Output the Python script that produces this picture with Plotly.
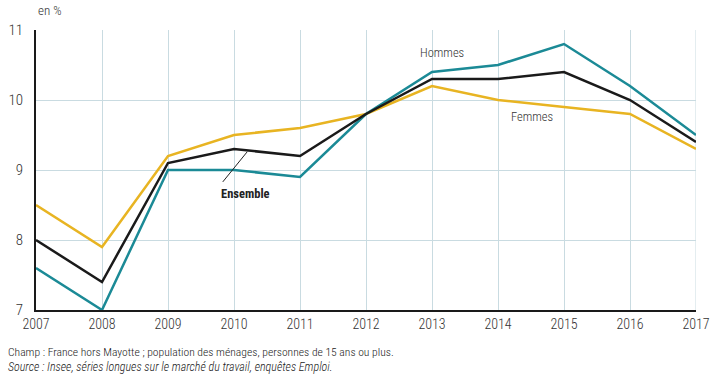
import plotly.graph_objects as go

years = [2007, 2008, 2009, 2010, 2011, 2012, 2013, 2014, 2015, 2016, 2017]
ensemble = [8.0, 7.4, 9.1, 9.3, 9.2, 9.8, 10.3, 10.3, 10.4, 10.0, 9.4]
hommes = [7.6, 7.0, 9.0, 9.0, 8.9, 9.8, 10.4, 10.5, 10.8, 10.2, 9.5]
femmes = [8.5, 7.9, 9.2, 9.5, 9.6, 9.8, 10.2, 10.0, 9.9, 9.8, 9.3]
y_ticks = [7, 8, 9, 10, 11]

FONT = "Roboto Condensed, Arial Narrow, Liberation Sans Narrow, Roboto, sans-serif"
TXT = "#333"

fig = go.Figure()
fig.add_trace(go.Scatter(x=years, y=femmes, mode="lines", name="Femmes",
                         line=dict(color="#e8b422", width=2.5), cliponaxis=False))
fig.add_trace(go.Scatter(x=years, y=hommes, mode="lines", name="Hommes",
                         line=dict(color="#1b8a96", width=2.5), cliponaxis=False))
fig.add_trace(go.Scatter(x=years, y=ensemble, mode="lines", name="Ensemble",
                         line=dict(color="#1a1a1a", width=2.5), cliponaxis=False))

fig.update_layout(
    width=710, height=380,
    margin=dict(l=36, r=14, t=30, b=70, autoexpand=False),
    paper_bgcolor="white", plot_bgcolor="white",
    showlegend=False,
    font=dict(family=FONT, size=13, color=TXT, weight=300),
    xaxis=dict(range=[2007, 2017], tickvals=years, ticktext=[str(y) for y in years],
               showgrid=True, gridcolor="#c9dbe1", gridwidth=1, automargin=False,
               showline=True, linecolor="#1a1a1a", linewidth=2,
               ticks="", zeroline=False,
               tickfont=dict(size=14, color=TXT, family=FONT, weight=300)),
    yaxis=dict(range=[7, 11], tickvals=y_ticks, showgrid=True, gridcolor="#c9dbe1",
               gridwidth=1, showline=True, linecolor="#1a1a1a", linewidth=2,
               automargin=False,
               ticks="", zeroline=False,
               tickfont=dict(size=15, color=TXT, family=FONT, weight=300),
               ticklabelstandoff=8),
)

# right border grid line at 2017
fig.add_shape(type="line", xref="x", yref="paper", x0=2017, x1=2017, y0=0, y1=1,
              line=dict(color="#c9dbe1", width=1), layer="below")

fig.add_annotation(xref="paper", yref="paper", x=0.0, y=1.0, yshift=20,
                   text="en %", showarrow=False, xanchor="left", yanchor="middle",
                   font=dict(size=13, color=TXT, weight=300))
fig.add_annotation(x=2013.15, y=10.68, text="Hommes", showarrow=False,
                   font=dict(size=12.5, color=TXT, weight=300))
fig.add_annotation(x=2014.51, y=9.77, text="Femmes", showarrow=False,
                   font=dict(size=12.5, color=TXT, weight=300))
fig.add_annotation(x=2010.18, y=8.66, text="<b>Ensemble</b>", showarrow=False,
                   font=dict(size=12.5, color="#222"))
fig.add_shape(type="line", xref="x", yref="y", x0=2009.83, y0=8.83, x1=2010.2, y1=9.26,
              line=dict(color="#222", width=1))

fig.add_annotation(xref="paper", yref="paper", x=-0.045, y=0, yshift=-42,
                   text="Champ : France hors Mayotte ; population des ménages, personnes de 15 ans ou plus.",
                   showarrow=False, xanchor="left", yanchor="middle",
                   font=dict(size=11.6, color="#222", weight=300))
fig.add_annotation(xref="paper", yref="paper", x=-0.045, y=0, yshift=-57,
                   text="<i>Source : Insee, séries longues sur le marché du travail, enquêtes Emploi.</i>",
                   showarrow=False, xanchor="left", yanchor="middle",
                   font=dict(size=12, color="#222", weight=300))

fig.write_html("out.html", config={"displayModeBar": False},
               post_script="document.body.style.margin='0';document.body.style.overflow='hidden';")
